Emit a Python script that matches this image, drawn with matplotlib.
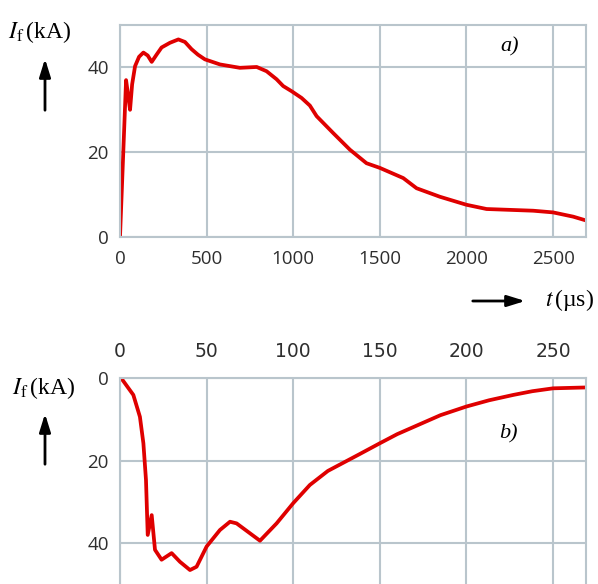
import numpy as np
import matplotlib.pyplot as plt

plt.rcParams['mathtext.fontset'] = 'stix'

# panel a) : lightning current, long time scale
t_a = [0, 35, 45, 58, 70, 87, 110, 135, 160, 183, 211, 240, 288, 337, 375, 413, 450,
       490, 577, 692, 789, 846, 904, 942, 990, 1048, 1096, 1135, 1231, 1327, 1423,
       1500, 1635, 1712, 1846, 2000, 2116, 2385, 2500, 2616, 2690]
i_a = [0, 37, 34, 30, 36, 40.3, 42.5, 43.5, 42.8, 41.3, 43, 44.7, 45.8, 46.6, 46,
       44.3, 43, 41.9, 40.7, 39.9, 40.1, 39.1, 37.2, 35.6, 34.4, 32.8, 31, 28.5,
       24.5, 20.6, 17.4, 16.3, 13.9, 11.5, 9.5, 7.6, 6.6, 6.2, 5.8, 4.8, 3.9]

# panel b) : first 270 us
t_b = [0, 1.5, 7.7, 11.5, 13.5, 15, 16, 18.3, 20.2, 24, 29.8, 34.6, 40.4, 44.2, 50,
       57.7, 63.5, 67.3, 80.8, 90.4, 100, 109.6, 120, 138, 150, 160, 185, 200, 213,
       227, 238, 250, 268]
i_b = [0, 0.5, 4.1, 9.4, 15.8, 24.7, 38, 33.2, 41.6, 44, 42.4, 44.5, 46.5, 45.7,
       40.8, 36.8, 34.8, 35.2, 39.4, 35.2, 30.3, 25.9, 22.5, 18.5, 15.8, 13.6, 9,
       6.9, 5.4, 4.1, 3.2, 2.5, 2.3]

W, H = 598, 584
red = '#df0000'
gridc = '#b9c5cc'
tickc = '#2e2e2e'

fig = plt.figure(figsize=(W / 100, H / 100), dpi=100)


def fx(px):
    return px / W


def fy(py):
    return 1 - py / H


def style(ax):
    ax.grid(True, color=gridc, linewidth=1.5)
    ax.set_axisbelow(True)
    for s in ax.spines.values():
        s.set_color(gridc)
        s.set_linewidth(1.5)
    ax.tick_params(length=0, labelsize=13.5, labelcolor=tickc)
    for lbl in ax.get_xticklabels() + ax.get_yticklabels():
        lbl.set_family('Open Sans')


# top panel
ax1 = fig.add_axes([fx(120), fy(237), fx(586) - fx(120), fy(25) - fy(237)])
ax1.plot(t_a, i_a, color=red, linewidth=2.7, solid_joinstyle='round')
ax1.set_xlim(0, 2690)
ax1.set_ylim(0, 50)
ax1.set_xticks([0, 500, 1000, 1500, 2000, 2500])
ax1.set_yticks([0, 20, 40])
style(ax1)
ax1.tick_params(axis='x', pad=9)
ax1.tick_params(axis='y', pad=8)
ax1.text(2250, 44.8, 'a)', fontsize=16, family='Liberation Serif', style='italic',
         ha='center', va='center')

# bottom panel (inverted, cut off at the bottom)
h2 = 55 * 4.13
ax2 = fig.add_axes([fx(120), fy(378 + h2), fx(586) - fx(120), fy(378) - fy(378 + h2)])
ax2.plot(t_b, i_b, color=red, linewidth=2.7, solid_joinstyle='round')
ax2.set_xlim(0, 269)
ax2.set_ylim(55, 0)
ax2.set_xticks([0, 50, 100, 150, 200, 250])
ax2.set_yticks([0, 20, 40])
style(ax2)
ax2.xaxis.tick_top()
ax2.tick_params(axis='x', pad=12)
ax2.tick_params(axis='y', pad=8)
ax2.text(224, 13.5, 'b)', fontsize=16, family='Liberation Serif', style='italic',
         ha='center', va='center')

# axis labels and arrows
lab = r'$I_\mathrm{f}\,$(kA)'
fig.text(fx(8), fy(32), lab, fontsize=17, family='Liberation Serif', va='center')
fig.text(fx(12), fy(388), lab, fontsize=17, family='Liberation Serif', va='center')
arr = dict(arrowstyle='-|>,head_length=0.9,head_width=0.28', color='black', lw=2)
fig.add_artist(plt.matplotlib.patches.FancyArrowPatch((fx(45), fy(113)), (fx(45), fy(56)),
               transform=fig.transFigure, **arr, mutation_scale=12))
fig.add_artist(plt.matplotlib.patches.FancyArrowPatch((fx(45), fy(467)), (fx(45), fy(411)),
               transform=fig.transFigure, **arr, mutation_scale=12))
fig.add_artist(plt.matplotlib.patches.FancyArrowPatch((fx(470), fy(301)), (fx(528), fy(301)),
               transform=fig.transFigure, **arr, mutation_scale=12))
fig.text(fx(545), fy(300), r'$t\,$(µs)', fontsize=17, family='Liberation Serif', va='center')

fig.savefig('out.png', dpi=100)
plt.close()
